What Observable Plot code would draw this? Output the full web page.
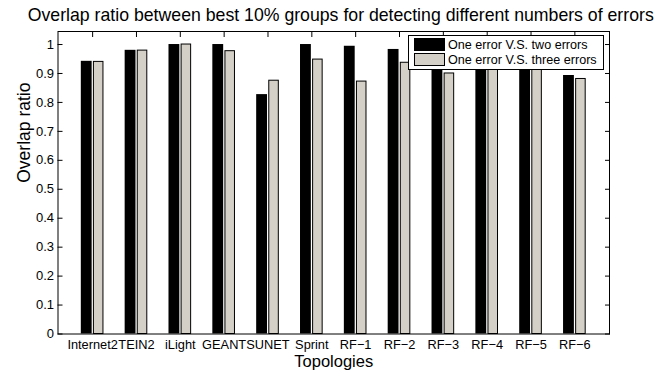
<!DOCTYPE html>
<html><head><meta charset="utf-8">
<script src="https://cdn.jsdelivr.net/npm/d3@7"></script>
<script src="https://cdn.jsdelivr.net/npm/@observablehq/plot@0.6"></script>
<style>
body{margin:0;background:#fff}
#chart{width:663px;height:370px;position:relative}
</style>
</head><body><div id="chart"></div>
<script>
const titleText = "Overlap ratio between best 10% groups for detecting different numbers of errors";
const xLabel = "Topologies";
const yLabel = "Overlap ratio";
const categories = ["Internet2","TEIN2","iLight","GEANT","SUNET","Sprint","RF\u22121","RF\u22122","RF\u22123","RF\u22124","RF\u22125","RF\u22126"];
const seriesNames = ["One error V.S. two errors","One error V.S. three errors"];
const twoErrors   = [0.942, 0.980, 1.000, 1.000, 0.827, 1.000, 0.994, 0.983, 0.990, 0.985, 0.990, 0.893];
const threeErrors = [0.940, 0.979, 1.000, 0.977, 0.875, 0.948, 0.872, 0.937, 0.900, 0.950, 0.960, 0.881];
const yTicks = [0, 0.1, 0.2, 0.3, 0.4, 0.5, 0.6, 0.7, 0.8, 0.9, 1];
const colors = ["#000000", "#d4d0c8"];

const W = 663, H = 370;
const mL = 57.5, mR = 54, mT = 31, mB = 36.5;
const font = "'Liberation Sans', Arial, Helvetica, sans-serif";

const rowsA = categories.map((c, i) => ({cat: c, v: twoErrors[i]}));
const rowsB = categories.map((c, i) => ({cat: c, v: threeErrors[i]}));

const chart = Plot.plot({
  width: W, height: H,
  marginLeft: mL, marginRight: mR, marginTop: mT, marginBottom: mB,
  style: {fontFamily: font, fontSize: "13px", background: "#fff", color: "#000"},
  x: {type: "band", domain: categories, paddingInner: 0, paddingOuter: 0.29, round: false, label: null},
  y: {domain: [0, 1.045], label: null},
  marks: [
    Plot.axisX({anchor: "top", tickSize: -5, tickFormat: () => "", label: null}),
    Plot.axisX({anchor: "bottom", tickSize: 0, tickPadding: 6, label: null, fontSize: 12.8}),
    Plot.axisY({anchor: "left", ticks: yTicks, tickSize: -5, tickPadding: 9, tickFormat: d => String(d), label: null, fontSize: 13}),
    Plot.axisY({anchor: "right", ticks: yTicks, tickSize: -5, tickFormat: () => "", label: null}),
    Plot.barY(rowsA, {x: "cat", y: "v", fill: colors[0], insetLeft: 10.6, insetRight: 22.4}),
    Plot.barY(rowsB, {x: "cat", y: "v", fill: colors[1], stroke: "#000", strokeWidth: 1, insetLeft: 23.2, insetRight: 11.1}),
    Plot.frame({stroke: "#000", strokeWidth: 1}),
    Plot.text([titleText], {frameAnchor: "top", dy: -16.5, dx: 7, fontSize: 17.7, lineAnchor: "middle", fill: "#000"}),
    Plot.text([xLabel], {frameAnchor: "bottom", dy: 27.3, fontSize: 16.5, lineAnchor: "middle", fill: "#000"}),
    Plot.text([yLabel], {frameAnchor: "left", dx: -34, rotate: -90, fontSize: 17.5, lineAnchor: "middle", fill: "#000"})
  ]
});
document.getElementById("chart").appendChild(chart);

// Legend (inside the axes, upper right)
const svg = d3.select(chart);
const lg = svg.append("g").attr("font-family", font).attr("font-size", 12.6).attr("text-anchor", "start");
lg.append("rect").attr("x", 408.5).attr("y", 35.5).attr("width", 195).attr("height", 34)
  .attr("fill", "#fff").attr("stroke", "#000").attr("stroke-width", 1);
seriesNames.forEach((name, i) => {
  const y0 = 38.5 + i * 15;
  lg.append("rect").attr("x", 414.5).attr("y", y0).attr("width", 30).attr("height", 12)
    .attr("fill", colors[i]).attr("stroke", "#000").attr("stroke-width", 1);
  lg.append("text").attr("x", 448).attr("y", y0 + 10.5).attr("fill", "#000").attr("text-anchor", "start").text(name);
});
</script>
</body></html>
